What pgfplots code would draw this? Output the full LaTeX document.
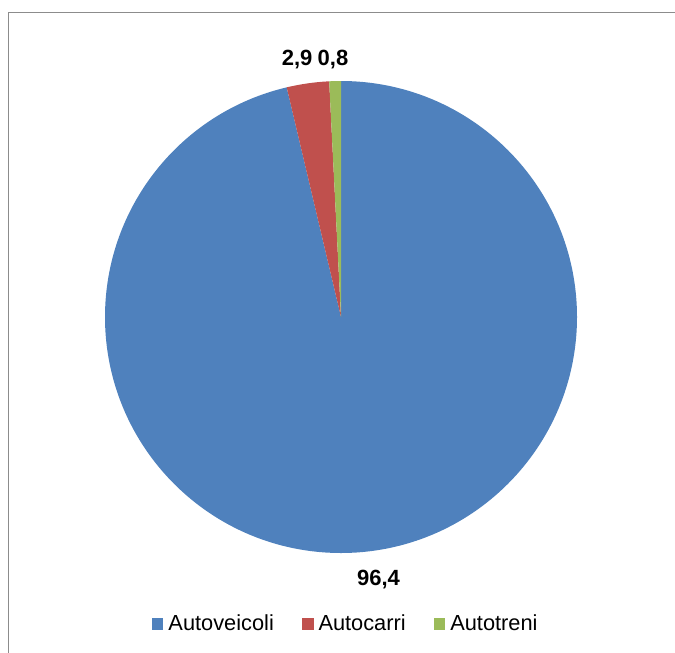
\documentclass[border=0pt]{standalone}
\usepackage{pgfplots}
\pgfplotsset{compat=1.18}
\usepackage{pgfplotstable}
\usepackage{fontspec}
\setmainfont{Liberation Sans}
\definecolor{cA}{HTML}{4F81BD}
\definecolor{cB}{HTML}{C0504D}
\definecolor{cC}{HTML}{9BBB59}
\definecolor{frame}{RGB}{140,140,140}
\pgfplotstableread[col sep=comma]{
name,value
Autoveicoli,96.4
Autocarri,2.9
Autotreni,0.8
}\piedata
\begin{document}
\begin{tikzpicture}
\pgfplotstablegetelem{0}{value}\of\piedata \let\vA\pgfplotsretval
\pgfplotstablegetelem{1}{value}\of\piedata \let\vB\pgfplotsretval
\pgfplotstablegetelem{2}{value}\of\piedata \let\vC\pgfplotsretval
\pgfmathsetmacro\vS{\vA+\vB+\vC}
\pgfmathsetmacro\aA{90}
\pgfmathsetmacro\bA{\aA-360*(\vA/\vS)}
\pgfmathsetmacro\bB{\bA-360*(\vB/\vS)}
\pgfmathsetmacro\bC{\bB-360*(\vC/\vS)}
\useasboundingbox (0,0) rectangle (337.5pt,-326.5pt);
\draw[frame, line width=0.8pt] (4.2pt,-326.5pt) -- (4.2pt,-6.3pt) -- (337.5pt,-6.3pt);
\begin{axis}[
  at={(170.5pt,-158.5pt)}, anchor=origin,
  x=118pt, y=118pt,
  xmin=-1.2, xmax=1.2, ymin=-1.2, ymax=1.2,
  hide axis, clip=false,
  legend columns=3,
  legend image code/.code={\fill[#1] (0pt,-2.9pt) rectangle (5.8pt,2.9pt);},
  legend style={at={(axis description cs:0.511,-0.042)}, anchor=center,
    draw=none, fill=none, font=\fontsize{10.9}{12.5}\selectfont,
    /tikz/every even column/.append style={column sep=11.5pt},
    nodes={inner sep=2.5pt}},
]
\addlegendimage{fill=cA, draw=none}
\addlegendentry{Autoveicoli}
\addlegendimage{fill=cB, draw=none}
\addlegendentry{Autocarri}
\addlegendimage{fill=cC, draw=none}
\addlegendentry{Autotreni}
\fill[cA] (axis cs:0,0) -- ++(\aA:118pt) arc[start angle=\aA, end angle=\bA, radius=118pt] -- cycle;
\fill[cB] (axis cs:0,0) -- ++(\bA:118pt) arc[start angle=\bA, end angle=\bB, radius=118pt] -- cycle;
\fill[cC] (axis cs:0,0) -- ++(\bB:118pt) arc[start angle=\bB, end angle=\bC, radius=118pt] -- cycle;
\node[font=\bfseries\fontsize{11}{13}\selectfont] at (axis cs:-0.186,1.089) {2,9};
\node[font=\bfseries\fontsize{11}{13}\selectfont] at (axis cs:-0.034,1.089) {0,8};
\node[font=\bfseries\fontsize{11}{13}\selectfont] at (axis cs:0.159,-1.114) {96,4};
\end{axis}
\end{tikzpicture}
\end{document}
